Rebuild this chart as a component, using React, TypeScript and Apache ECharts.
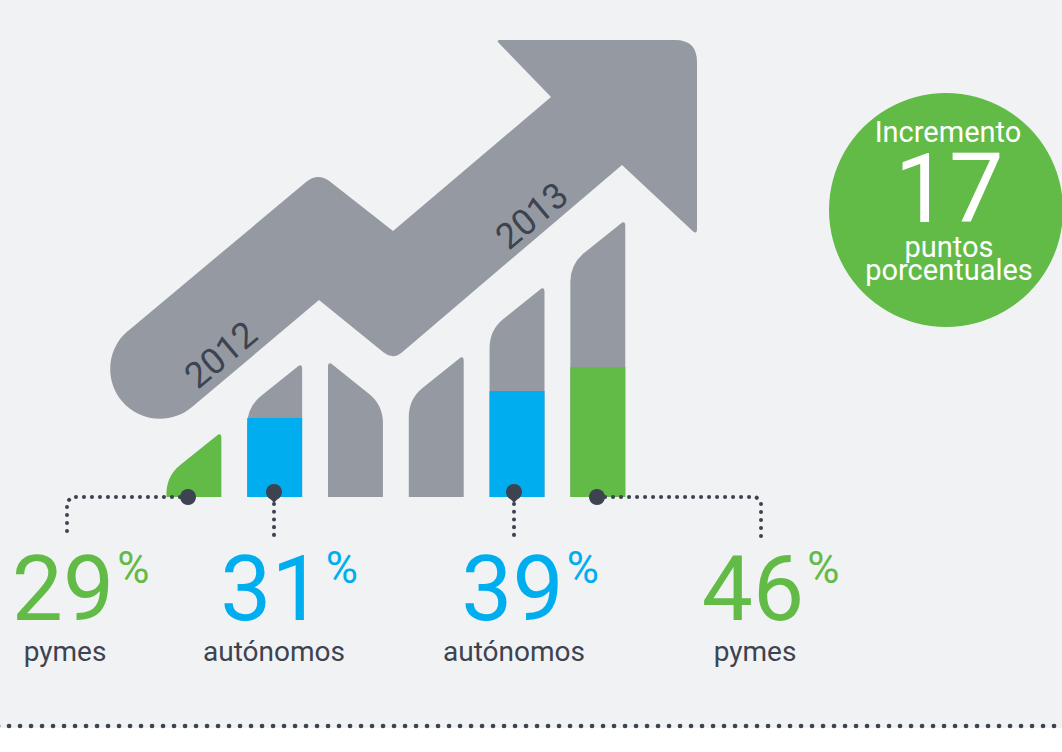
import React, { useEffect, useRef } from "react";
import * as echarts from "echarts";

// ---------------- data ----------------
const categories = ["pymes 2012", "autónomos 2012", "2012", "2013", "autónomos 2013", "pymes 2013"];
// full (grey) column heights, in units of the hidden value axis
const columnHeights = [65, 134, 136, 142, 211, 277];
// coloured part of each column
const fillHeights = [65, 79, 0, 0, 106, 130];
const fillGroups = ["pymes", "autónomos", "", "", "autónomos", "pymes"];
// 1 = top cut rises to the right, -1 = rises to the left
const bevelSides = [1, 1, -1, 1, 1, 1];

const shareValues = [29, 31, 39, 46];
const shareGroups = ["pymes", "autónomos", "autónomos", "pymes"];
const years = ["2012", "2013"];
const incrementPoints = 17;
const incrementTexts = ["Incremento", "puntos", "porcentuales"];

// ---------------- layout & style ----------------
const W = 1062;
const H = 752;
const BASE_Y = 497;
const AXIS_MAX = 300;
const GRID_LEFT = 153.5;
const GRID_WIDTH = 484.7;

const GREEN = "#62bb46";
const BLUE = "#00aeef";
const GRAY = "#959aa2";
const DARK = "#3d4350";
const BG = "#f1f2f4";
const FONT = "Roboto, 'Noto Sans', sans-serif";
const groupColor: Record<string, string> = { pymes: GREEN, "autónomos": BLUE };

const numberCenters = [63, 271.5, 512.5, 753];
const labelCenters = [65, 274, 514, 755];
const yearPos = [
  [221, 355],
  [532, 216],
];

const f = (n: number) => n.toFixed(2);
const pt = (p: number[]) => `${f(p[0])} ${f(p[1])}`;
function unit(dx: number, dy: number) {
  const l = Math.hypot(dx, dy) || 1;
  return [dx / l, dy / l];
}
function openRounded(start: number[], verts: number[][], end: number[]) {
  let d = `M${pt(start)}`;
  const pts = [start, ...verts.map((v) => [v[0], v[1]]), end];
  for (let k = 0; k < verts.length; k++) {
    const [vx, vy, r0] = verts[k];
    const p = pts[k];
    const n = pts[k + 2];
    const lp = Math.hypot(p[0] - vx, p[1] - vy);
    const ln = Math.hypot(n[0] - vx, n[1] - vy);
    const r = Math.min(r0, lp * 0.95, ln * 0.5);
    if (r <= 0) {
      d += ` L${pt([vx, vy])}`;
      continue;
    }
    const u1 = unit(p[0] - vx, p[1] - vy);
    const u2 = unit(n[0] - vx, n[1] - vy);
    d += ` L${pt([vx + u1[0] * r, vy + u1[1] * r])} Q${pt([vx, vy])} ${pt([vx + u2[0] * r, vy + u2[1] * r])}`;
  }
  d += ` L${pt(end)}`;
  return d;
}
function quarterArcs(cx: number, cy: number, r: number, a0deg: number, count: number) {
  let d = "";
  const k = 0.5523 * r;
  for (let q = 0; q < count; q++) {
    const a = ((a0deg + 90 * q) * Math.PI) / 180;
    const b = a + Math.PI / 2;
    const p0 = [cx + r * Math.cos(a), cy + r * Math.sin(a)];
    const p3 = [cx + r * Math.cos(b), cy + r * Math.sin(b)];
    const c1 = [p0[0] - k * Math.sin(a), p0[1] + k * Math.cos(a)];
    const c2 = [p3[0] + k * Math.sin(b), p3[1] - k * Math.cos(b)];
    d += ` C${pt(c1)} ${pt(c2)} ${pt(p3)}`;
  }
  return d;
}

// trend arrow (decoration)
const arrowD =
  openRounded(
    [128, 331],
    [
      [318, 172, 16],
      [393, 231, 0],
      [551, 97, 0],
      [496, 40, 4],
      [697, 40, 22],
      [697, 235, 6],
      [622, 165, 0],
      [393, 360, 12],
      [319, 300, 0],
    ],
    [192, 407.1]
  ) +
  quarterArcs(160, 369, 49.8, 50, 2) +
  " Z";

echarts.graphic.registerShape("trendArrow", echarts.graphic.extendPath(arrowD, {}) as any);

function barPath(x0: number, x1: number, yb: number, yt: number, side: number) {
  const bevel = 44;
  const yLow = Math.min(yt + bevel, yb);
  const verts =
    side === 1
      ? [
          [x0, yLow, 18],
          [x1, yt, 6],
          [x1, yb, 0],
        ]
      : [
          [x0, yt, 6],
          [x1, yLow, 18],
          [x1, yb, 0],
        ];
  return openRounded([x0, yb], verts, [x0, yb]) + " Z";
}

function measure(text: string, font: string) {
  const c = document.createElement("canvas").getContext("2d");
  if (!c) return text.length * 50;
  c.font = font;
  return c.measureText(text).width;
}

function txt(text: string, x: number, y: number, size: number, color: string, extra: any = {}) {
  const align = extra.align || "center";
  return {
    type: "text",
    x,
    y,
    rotation: extra.rotation || 0,
    z: 20,
    style: {
      text,
      fill: color,
      fontSize: size,
      fontFamily: FONT,
      fontWeight: extra.weight || 400,
      align,
      textAlign: align,
      verticalAlign: "middle",
      textVerticalAlign: "middle",
    },
  };
}

export default function App() {
  const ref = useRef<HTMLDivElement>(null);
  useEffect(() => {
    if (!ref.current) return;
    const chart = echarts.init(ref.current, null, { renderer: "svg", width: W, height: H });

    const dotted = (points: number[][], width: number, gap: number) => ({
      type: "polyline",
      z: 15,
      shape: { points },
      style: { stroke: DARK, lineWidth: width, lineDash: [0.1, gap], lineCap: "round", fill: null },
    });

    const graphics: any[] = [
      { type: "rect", z: -10, shape: { x: 0, y: 0, width: W, height: 728 }, style: { fill: BG } },
      { type: "trendArrow", z: 1, style: { fill: GRAY } },
      ...years.map((y, i) =>
        txt(y, yearPos[i][0], yearPos[i][1], 36, DARK, { rotation: (40 * Math.PI) / 180 })
      ),
      { type: "circle", z: 5, shape: { cx: 946, cy: 210, r: 117 }, style: { fill: GREEN } },
      txt(incrementTexts[0], 948, 132, 29, "#ffffff"),
      txt(String(incrementPoints), 949, 189, 97, "#ffffff"),
      txt(incrementTexts[1], 949, 247, 29, "#ffffff"),
      txt(incrementTexts[2], 949, 270, 29, "#ffffff"),
      // connectors
      dotted([[180, 497], [72, 497], [67, 502], [67, 537]], 4, 7.9),
      dotted([[605, 497], [756, 497], [761, 502], [761, 537]], 4, 7.9),
      dotted([[274, 504], [274, 537]], 4, 7.6),
      dotted([[514, 504], [514, 537]], 4, 7.6),
      { type: "circle", z: 16, shape: { cx: 188, cy: 497, r: 8 }, style: { fill: DARK } },
      { type: "circle", z: 16, shape: { cx: 597, cy: 497, r: 8 }, style: { fill: DARK } },
      { type: "circle", z: 16, shape: { cx: 274, cy: 492, r: 8 }, style: { fill: DARK } },
      { type: "polygon", z: 16, shape: { points: [[268, 496], [280, 496], [274, 503]] }, style: { fill: DARK } },
      { type: "circle", z: 16, shape: { cx: 514, cy: 492, r: 8 }, style: { fill: DARK } },
      { type: "polygon", z: 16, shape: { points: [[508, 496], [520, 496], [514, 503]] }, style: { fill: DARK } },
      // bottom rule
      {
        type: "line",
        z: 15,
        shape: { x1: -2, y1: 726, x2: W + 4, y2: 726 },
        style: { stroke: DARK, lineWidth: 4.6, lineDash: [0.1, 10.9], lineCap: "round" },
      },
    ];

    shareValues.forEach((v, i) => {
      const color = groupColor[shareGroups[i]];
      const s = String(v);
      const w = measure(s, `400 91px Roboto`);
      graphics.push(txt(s, numberCenters[i], 589, 91, color));
      graphics.push(txt("%", numberCenters[i] + w / 2 + 3, 568, 44, color, { align: "left" }));
      graphics.push(txt(shareGroups[i], labelCenters[i], 651, 28, DARK));
    });

    chart.setOption({
      animation: false,
      backgroundColor: "#ffffff",
      grid: { left: GRID_LEFT, width: GRID_WIDTH, top: BASE_Y - AXIS_MAX, height: AXIS_MAX },
      xAxis: { type: "category", data: categories, show: false },
      yAxis: { type: "value", min: 0, max: AXIS_MAX, show: false },
      graphic: graphics,
      series: [
        {
          type: "custom",
          z: 10,
          encode: { x: 0, y: 1 },
          data: categories.map((c, i) => [i, columnHeights[i], fillHeights[i]]),
          renderItem: (params: any, api: any) => {
            const idx = params.dataIndex;
            const top = api.value(1);
            const fill = api.value(2);
            const base = api.coord([idx, 0]);
            const topPt = api.coord([idx, top]);
            const fillPt = api.coord([idx, fill]);
            const bw = api.size([1, 0])[0] * 0.68;
            const x0 = base[0] - bw / 2;
            const x1 = base[0] + bw / 2;
            const color = groupColor[fillGroups[idx]] || GRAY;
            const full = fill >= top;
            const children: any[] = [
              {
                type: "path",
                shape: { pathData: barPath(x0, x1, base[1], topPt[1], bevelSides[idx]) },
                style: { fill: full ? color : GRAY },
              },
            ];
            if (!full && fill > 0) {
              children.push({
                type: "rect",
                shape: { x: x0, y: fillPt[1], width: bw, height: base[1] - fillPt[1] },
                style: { fill: color },
              });
            }
            return { type: "group", children };
          },
        },
      ],
    });
    return () => chart.dispose();
  }, []);
  return <div ref={ref} style={{ position: "absolute", left: 0, top: 0, width: W, height: H }} />;
}
